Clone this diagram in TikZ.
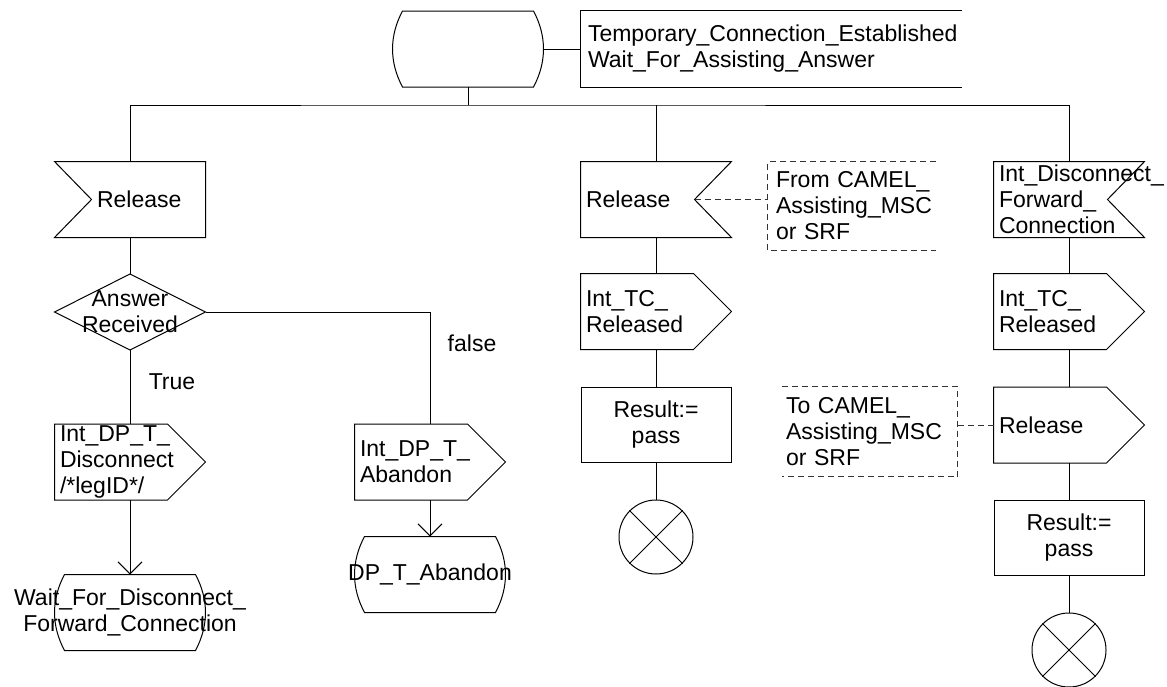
\documentclass[tikz,border=0pt]{standalone}
\usepackage{fontspec}
\setmainfont{Liberation Sans}
\usetikzlibrary{arrows.meta}

\newcommand\sdlfont{\fontsize{23}{26}\selectfont}
% SDL 符号外框
\newcommand\inleft[1]{\draw (#1.north west) -- (#1.north east) -- (#1.south east) -- (#1.south west) -- ([xshift=37pt]#1.west) -- cycle;}
\newcommand\inright[1]{\draw (#1.north west) -- (#1.north east) -- ([xshift=-37pt]#1.east) -- (#1.south east) -- (#1.south west) -- cycle;}
\newcommand\outsym[1]{\draw (#1.north west) -- ([xshift=-38pt]#1.north east) -- (#1.east) -- ([xshift=-38pt]#1.south east) -- (#1.south west) -- cycle;}
\newcommand\decsym[1]{\draw (#1.west) -- (#1.north) -- (#1.east) -- (#1.south) -- cycle;}
\newcommand\statesym[1]{\draw ([xshift=10pt]#1.north west) -- ([xshift=-10pt]#1.north east) .. controls ([xshift=3.3pt,yshift=-25pt]#1.north east) and ([xshift=3.3pt,yshift=25pt]#1.south east) .. ([xshift=-10pt]#1.south east) -- ([xshift=10pt]#1.south west) .. controls ([xshift=-3.3pt,yshift=25pt]#1.south west) and ([xshift=-3.3pt,yshift=-25pt]#1.north west) .. ([xshift=10pt]#1.north west) -- cycle;}
\newcommand\sdlstop[1]{\draw (#1.north west) -- (#1.south east) (#1.north east) -- (#1.south west);}

\tikzset{
  sdl/.style={minimum width=150pt, minimum height=75pt, inner sep=0pt, font=\sdlfont},
  insym/.style={sdl, text width=140pt, align=left},
  taskbox/.style={sdl, draw, align=center},
  stopnode/.style={circle, draw, minimum size=74pt, inner sep=0pt},
  cmt/.style={inner sep=0pt, align=left, font=\sdlfont},
  cmtline/.style={dash pattern=on 6pt off 4pt, black!80},
  namebox/.style={minimum width=380pt, minimum height=76pt, text width=366pt, inner sep=0pt, align=left, font=\sdlfont}
}

\begin{document}
\begin{tikzpicture}[x=1pt, y=1pt, line width=1pt, >={Straight Barb[length=12pt,width=24pt]}]
\useasboundingbox (0,0) rectangle (1167,-686);

% 起始状态
\node[sdl] (st0) at (468,-49) {};
\node[namebox] (stname) at (771,-49) {Temporary\_Connection\_Established\\Wait\_For\_Assisting\_Answer};
\coordinate (bus) at (468,-105);

% 左分支
\node[insym] (in1) at (130,-199.5) {\hspace*{37pt}Release};
\node[sdl, align=center] (dec) at (130,-312) {Answer\\Received};
\node[font=\sdlfont] (ltrue) at (172,-382) {True};
\node[font=\sdlfont] (lfalse) at (472,-343) {false};
\node[insym] (out1) at (130,-462) {Int\_DP\_T\_\\Disconnect\\/*legID*/};
\node[sdl, align=center] (state1) at (130,-612.5) {\makebox[0pt]{Wait\_For\_Disconnect\_}\\\makebox[0pt]{Forward\_Connection}};
\node[insym] (out2) at (430,-462) {Int\_DP\_T\_\\Abandon};
\node[sdl] (state2) at (430,-574.5) {\makebox[0pt]{DP\_T\_Abandon}};

% 中间分支
\node[insym] (in2) at (656,-199.5) {Release};
\node[cmt, minimum width=167pt, minimum height=88pt, text width=151pt] (com1) at (851.5,-206) {\mbox{From CAMEL\_}\\Assisting\_MSC\\or SRF};
\node[insym] (otc1) at (656,-311.5) {Int\_TC\_\\Released};
\node[taskbox] (task1) at (656,-424.5) {Result:=\\pass};
\node[stopnode] (stop1) at (656,-537) {};

% 右分支
\node[insym] (in3) at (1069,-199.5) {Int\_Disconnect\_\\Forward\_\\Connection};
\node[insym] (otc2) at (1069,-311.5) {Int\_TC\_\\Released};
\node[insym] (orel) at (1069,-425) {Release};
\node[cmt, minimum width=175pt, minimum height=89pt, text width=167pt] (com2) at (869.5,-431.5) {To CAMEL\_\\Assisting\_MSC\\or SRF};
\node[taskbox] (task2) at (1069,-537.5) {Result:=\\pass};
\node[stopnode] (stop2) at (1069,-650) {};

\statesym{st0} \statesym{state1} \statesym{state2}
\inleft{in1}
\foreach \n in {in2,in3} {\inright{\n}}
\foreach \n in {out1,out2,otc1,otc2,orel} {\outsym{\n}}
\decsym{dec}
\sdlstop{stop1} \sdlstop{stop2}

\draw (st0.east) -- (stname.west);
\draw (stname.north east) -- (stname.north west) -- (stname.south west) -- (stname.south east);
\draw (st0.south) -- (bus);
\draw (in1.north) |- (bus) -| (in3.north);
\draw (in2.north) -- (in2.north |- bus);

\draw (in1.south) -- (dec.north);
\draw (dec.south) -- (out1.north);
\draw (dec.east) -| (out2.north);
\draw[->] (out1.south) -- (state1.north);
\draw[->] (out2.south) -- (state2.north);

\draw (in2.south) -- (otc1.north) (otc1.south) -- (task1.north) (task1.south) -- (stop1.north);
\draw (in3.south) -- (otc2.north) (otc2.south) -- (orel.north) (orel.south) -- (task2.north) (task2.south) -- (stop2.north);

% 注释框
\draw[cmtline] ([xshift=-37pt]in2.east) -- (in2.east -| com1.west);
\draw[cmtline] (com1.north east) -- (com1.north west) -- (com1.south west) -- (com1.south east);
\draw[cmtline] (com2.north west) -- (com2.north east) -- (com2.south east) -- (com2.south west);
\draw[cmtline] (orel.west) -- (orel.west -| com2.east);

\end{tikzpicture}
\end{document}
